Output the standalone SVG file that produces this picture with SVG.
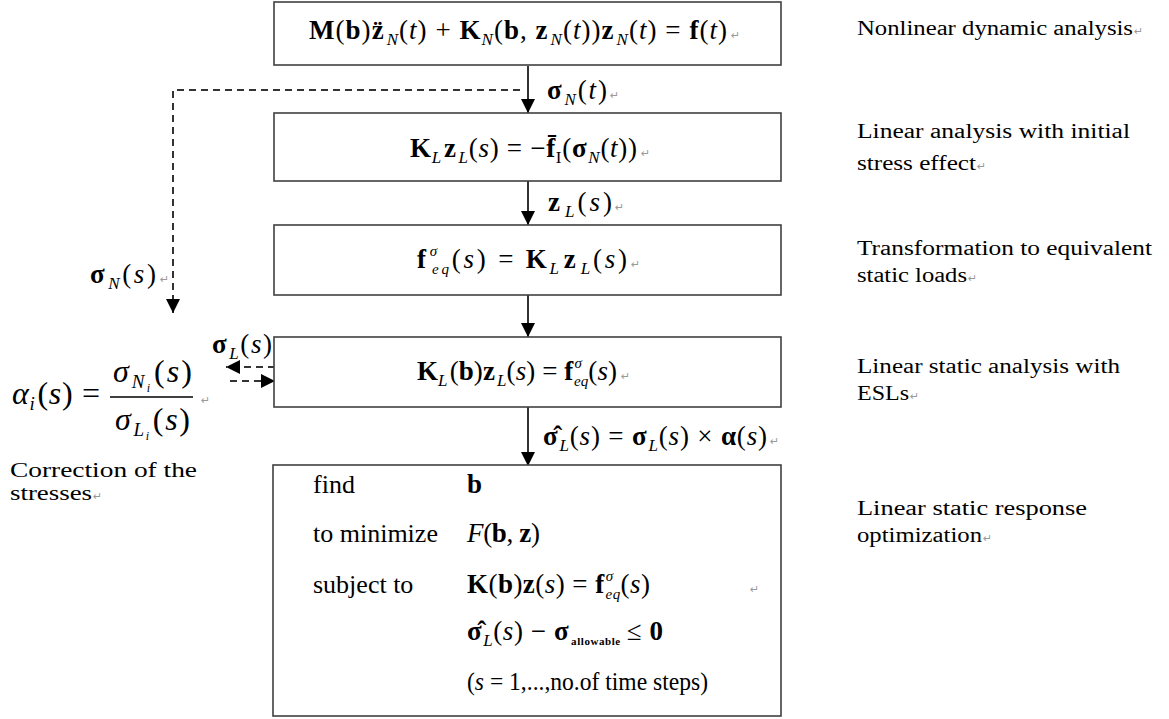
<svg xmlns="http://www.w3.org/2000/svg" width="1169" height="719" viewBox="0 0 1169 719">
<style>
.box{fill:#fff;stroke:#404040;stroke-width:1.6}
.m{font-family:"Liberation Serif",serif;font-size:27px;fill:#000}
.b{font-weight:bold}
.i{font-style:italic}
.sub{font-size:17px;font-style:italic}
.sup{font-size:15px;font-style:italic}
.lbl{font-family:"Liberation Serif",serif;font-size:20px;fill:#000}
.txt{font-family:"Liberation Serif",serif;font-size:26px;fill:#000}
.ret{font-family:"DejaVu Sans",sans-serif;font-size:11px;fill:#999}
.sol{stroke:#333;stroke-width:2;fill:none}
.dash{stroke:#333;stroke-width:2;fill:none;stroke-dasharray:7,5}
</style>
<defs>
<marker id="ah" markerUnits="userSpaceOnUse" markerWidth="14" markerHeight="14" refX="14" refY="7" orient="auto">
<path d="M0,0 L14,7 L0,14 Z" fill="#000"/>
</marker>
</defs>

<g id="connectors">
<line class="sol" x1="528" y1="66" x2="528" y2="113" marker-end="url(#ah)"/>
<line class="sol" x1="528" y1="181" x2="528" y2="225" marker-end="url(#ah)"/>
<line class="sol" x1="528" y1="295" x2="528" y2="337" marker-end="url(#ah)"/>
<line class="sol" x1="528" y1="407" x2="528" y2="466" marker-end="url(#ah)"/>
<path class="dash" d="M520,90 H173 V313" marker-end="url(#ah)"/>
<line class="dash" x1="275" y1="367" x2="226" y2="367" marker-end="url(#ah)"/>
<line class="dash" x1="230" y1="381" x2="275" y2="381" marker-end="url(#ah)"/>
<text class="m" x="547" y="99" textLength="60" lengthAdjust="spacing"><tspan class="b">σ</tspan><tspan class="sub" dx="1" dy="6">N</tspan><tspan dy="-6">(</tspan><tspan class="i">t</tspan>)</text>
<text class="ret" x="610" y="99">↵</text>
<text class="m" x="548" y="211" textLength="64" lengthAdjust="spacing"><tspan class="b">z</tspan><tspan class="sub" dx="2" dy="6">L</tspan><tspan dy="-6">(</tspan><tspan class="i">s</tspan>)</text>
<text class="ret" x="615" y="211">↵</text>
<text class="m" x="90" y="283" textLength="66" lengthAdjust="spacing"><tspan class="b">σ</tspan><tspan class="sub" dx="1" dy="6">N</tspan><tspan dy="-6">(</tspan><tspan class="i">s</tspan>)</text>
<text class="ret" x="160" y="283">↵</text>
<text class="m" x="212" y="353" textLength="60" lengthAdjust="spacing"><tspan class="b">σ</tspan><tspan class="sub" dx="1" dy="6">L</tspan><tspan dy="-6">(</tspan><tspan class="i">s</tspan>)</text>
<text class="ret" x="273" y="345">↵</text>
<text class="m" x="543" y="445" textLength="224" lengthAdjust="spacing"><tspan class="b">σ̂</tspan><tspan class="sub" dx="1" dy="6">L</tspan><tspan dy="-6">(</tspan><tspan class="i">s</tspan>) = <tspan class="b">σ</tspan><tspan class="sub" dx="1" dy="6">L</tspan><tspan dy="-6">(</tspan><tspan class="i">s</tspan>) × <tspan class="b">α</tspan>(<tspan class="i">s</tspan>)</text>
<text class="ret" x="770" y="445">↵</text>
</g>

<g id="n1">
<rect class="box" x="274" y="2" width="507" height="63"/>
<text class="m" x="309" y="39" textLength="418" lengthAdjust="spacing"><tspan class="b">M</tspan>(<tspan class="b">b</tspan>)<tspan class="b">z̈</tspan><tspan class="sub" dx="2" dy="6">N</tspan><tspan dy="-6">(</tspan><tspan class="i">t</tspan>) + <tspan class="b">K</tspan><tspan class="sub" dy="6">N</tspan><tspan dy="-6">(</tspan><tspan class="b">b</tspan>, <tspan class="b">z</tspan><tspan class="sub" dx="2" dy="6">N</tspan><tspan dy="-6">(</tspan><tspan class="i">t</tspan>))<tspan class="b">z</tspan><tspan class="sub" dx="2" dy="6">N</tspan><tspan dy="-6">(</tspan><tspan class="i">t</tspan>) = <tspan class="b">f</tspan>(<tspan class="i">t</tspan>)</text>
<text class="ret" x="731" y="39">↵</text>
<text class="lbl" x="857" y="35" textLength="276" lengthAdjust="spacingAndGlyphs">Nonlinear dynamic analysis</text>
<text class="ret" x="1134" y="35">↵</text>
</g>

<g id="n2">
<rect class="box" x="274" y="113" width="507" height="68"/>
<text class="m" x="410" y="157" textLength="227" lengthAdjust="spacing"><tspan class="b">K</tspan><tspan class="sub" dy="6">L</tspan><tspan class="b" dx="2" dy="-6">z</tspan><tspan class="sub" dx="2" dy="6">L</tspan><tspan dy="-6">(</tspan><tspan class="i">s</tspan>) = −<tspan class="b">f̄</tspan><tspan font-size="17" dy="6">I</tspan><tspan dy="-6">(</tspan><tspan class="b">σ</tspan><tspan class="sub" dx="1" dy="6">N</tspan><tspan dy="-6">(</tspan><tspan class="i">t</tspan>))</text>
<text class="ret" x="641" y="157">↵</text>
<text class="lbl" x="857" y="138" textLength="273" lengthAdjust="spacingAndGlyphs">Linear analysis with initial</text>
<text class="lbl" x="857" y="170" textLength="119" lengthAdjust="spacingAndGlyphs">stress effect</text>
<text class="ret" x="977" y="170">↵</text>
</g>

<g id="n3">
<rect class="box" x="274" y="225" width="507" height="70"/>
<text class="m" x="417" y="268" textLength="210" lengthAdjust="spacing"><tspan class="b">f</tspan><tspan class="sup" dx="1" dy="-12">σ</tspan><tspan class="sup" dx="-8" dy="18">eq</tspan><tspan dy="-6">(</tspan><tspan class="i">s</tspan>) = <tspan class="b">K</tspan><tspan class="sub" dy="6">L</tspan><tspan class="b" dx="2" dy="-6">z</tspan><tspan class="sub" dx="2" dy="6">L</tspan><tspan dy="-6">(</tspan><tspan class="i">s</tspan>)</text>
<text class="ret" x="631" y="268">↵</text>
<text class="lbl" x="857" y="255" textLength="295" lengthAdjust="spacingAndGlyphs">Transformation to equivalent</text>
<text class="lbl" x="857" y="282" textLength="110" lengthAdjust="spacingAndGlyphs">static loads</text>
<text class="ret" x="968" y="282">↵</text>
</g>

<g id="n4">
<rect class="box" x="274" y="337" width="507" height="70"/>
<text class="m" x="417" y="380" textLength="200" lengthAdjust="spacing"><tspan class="b">K</tspan><tspan class="sub" dy="6">L</tspan><tspan dx="2" dy="-6">(</tspan><tspan class="b">b</tspan>)<tspan class="b">z</tspan><tspan class="sub" dx="2" dy="6">L</tspan><tspan dy="-6">(</tspan><tspan class="i">s</tspan>) = <tspan class="b">f</tspan><tspan class="sup" dx="1" dy="-12">σ</tspan><tspan class="sup" dx="-8" dy="18">eq</tspan><tspan dy="-6">(</tspan><tspan class="i">s</tspan>)</text>
<text class="ret" x="621" y="380">↵</text>
<text class="lbl" x="857" y="373" textLength="263" lengthAdjust="spacingAndGlyphs">Linear static analysis with</text>
<text class="lbl" x="857" y="400" textLength="52" lengthAdjust="spacingAndGlyphs">ESLs</text>
<text class="ret" x="910" y="400">↵</text>
</g>

<g id="n5">
<rect class="box" x="273" y="465" width="508" height="251"/>
<text class="txt" x="313" y="493">find</text>
<text class="txt" x="313" y="542">to minimize</text>
<text class="txt" x="313" y="593">subject to</text>
<text class="m" x="467" y="493"><tspan class="b">b</tspan></text>
<text class="m" x="467" y="542" textLength="73" lengthAdjust="spacing"><tspan class="i">F</tspan>(<tspan class="b">b</tspan>, <tspan class="b">z</tspan>)</text>
<text class="m" x="467" y="593" textLength="183" lengthAdjust="spacing"><tspan class="b">K</tspan>(<tspan class="b">b</tspan>)<tspan class="b">z</tspan>(<tspan class="i">s</tspan>) = <tspan class="b">f</tspan><tspan class="sup" dx="1" dy="-12">σ</tspan><tspan class="sup" dx="-8" dy="18">eq</tspan><tspan dy="-6">(</tspan><tspan class="i">s</tspan>)</text>
<text class="ret" x="750" y="593">↵</text>
<text class="m" x="467" y="640" textLength="196" lengthAdjust="spacing"><tspan class="b">σ̂</tspan><tspan class="sub" dx="1" dy="6">L</tspan><tspan dy="-6">(</tspan><tspan class="i">s</tspan>) − <tspan class="b">σ</tspan><tspan font-size="11" font-weight="bold" dx="2" dy="5">allowable</tspan><tspan dx="6" dy="-5">≤ </tspan><tspan class="b">0</tspan></text>
<text class="m" style="font-size:26px" x="467" y="690" textLength="241" lengthAdjust="spacingAndGlyphs">(<tspan class="i">s</tspan> = 1,...,no.of time steps)</text>
<text class="lbl" x="857" y="515" textLength="230" lengthAdjust="spacingAndGlyphs">Linear static response</text>
<text class="lbl" x="857" y="542" textLength="125" lengthAdjust="spacingAndGlyphs">optimization</text>
<text class="ret" x="983" y="542">↵</text>
</g>

<g id="n6">
<text class="m" style="font-size:32px" x="12" y="404" textLength="88" lengthAdjust="spacing"><tspan class="i">α</tspan><tspan class="sub" style="font-size:19px" dy="6">i</tspan><tspan dx="2" dy="-6">(</tspan><tspan class="i">s</tspan>) =</text>
<line x1="110" y1="397" x2="193" y2="397" stroke="#000" stroke-width="1.3"/>
<text class="m" style="font-size:32px" x="113" y="382" textLength="79" lengthAdjust="spacing"><tspan class="i">σ</tspan><tspan class="sub" style="font-size:19px" dx="1" dy="6">N</tspan><tspan class="sub" style="font-size:12px" dy="4">i</tspan><tspan dx="2" dy="-10">(</tspan><tspan class="i">s</tspan>)</text>
<text class="m" style="font-size:32px" x="115" y="430" textLength="75" lengthAdjust="spacing"><tspan class="i">σ</tspan><tspan class="sub" style="font-size:19px" dx="1" dy="6">L</tspan><tspan class="sub" style="font-size:12px" dy="4">i</tspan><tspan dx="2" dy="-10">(</tspan><tspan class="i">s</tspan>)</text>
<text class="ret" x="201" y="404">↵</text>
<text class="lbl" x="10" y="477" textLength="187" lengthAdjust="spacingAndGlyphs">Correction of the</text>
<text class="lbl" x="10" y="500" textLength="82" lengthAdjust="spacingAndGlyphs">stresses</text>
<text class="ret" x="93" y="500">↵</text>
</g>
</svg>
